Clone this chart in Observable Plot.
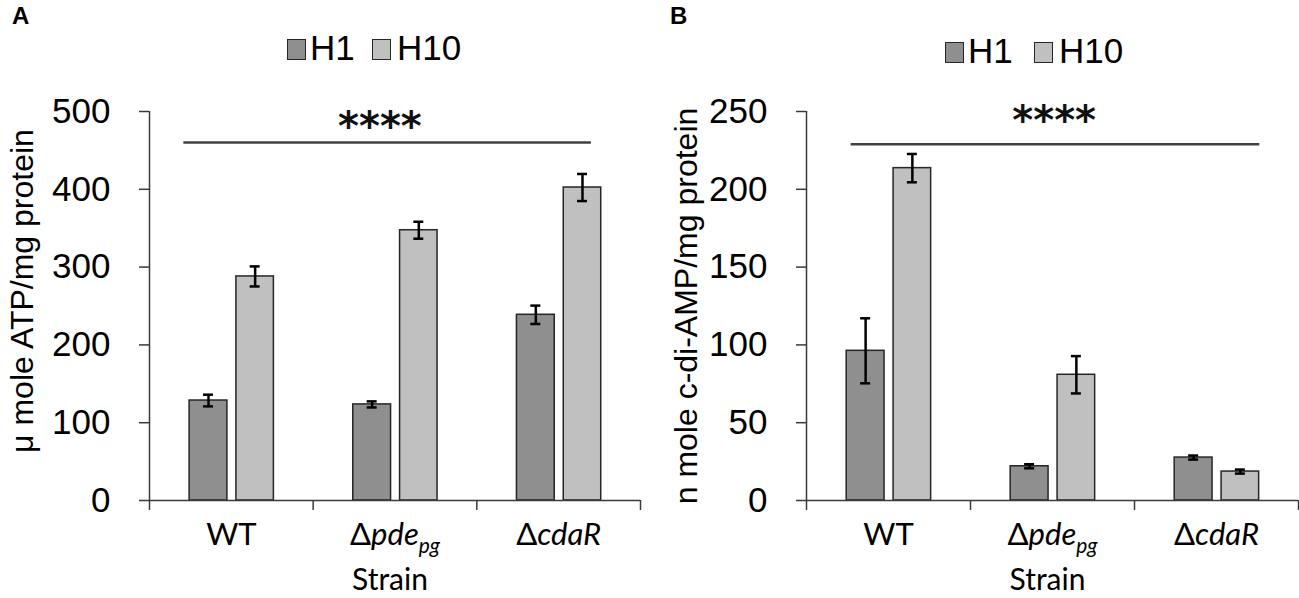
<!DOCTYPE html>
<html><head><meta charset="utf-8">
<script src="https://cdn.jsdelivr.net/npm/d3@7"></script>
<script src="https://cdn.jsdelivr.net/npm/@observablehq/plot@0.6"></script>
<style>
body{margin:0;background:#fff;}
#root{position:relative;width:1299px;height:598px;overflow:hidden;background:#fff;}
.panel{position:absolute;top:0;height:598px;}
.lg{position:absolute;font-family:"Liberation Sans",Arial,sans-serif;font-size:35px;line-height:35px;color:#000;white-space:nowrap;}
.sw{position:absolute;box-sizing:border-box;border:1.5px solid #262626;width:19px;height:21px;}
.letter{position:absolute;font-family:"Liberation Sans",Arial,sans-serif;font-weight:bold;font-size:24px;line-height:24px;color:#000;}
</style></head><body><div id="root"></div>
<script>
// ---------- data ----------
const strains = ["WT", "Δpde_pg", "ΔcdaR"];
const series = ["H1", "H10"];
const seriesColors = ["#8f8f8f", "#c0c0c0"];

// Panel A: µmole ATP / mg protein
const atpH1 = [128.5, 123.5, 238.7];
const atpH1Err = [7.5, 3.9, 11.8];
const atpH10 = [288, 347.4, 402.3];
const atpH10Err = [12.9, 10.9, 17.4];
const yTicksA = [0, 100, 200, 300, 400, 500];
const yLabelA = "μ mole ATP/mg protein";

// Panel B: nmole c-di-AMP / mg protein
const cdaH1 = [96.2, 22, 27.6];
const cdaH1Err = [20.9, 1.3, 1.3];
const cdaH10 = [213.6, 80.8, 18.6];
const cdaH10Err = [9.1, 12, 1.3];
const yTicksB = [0, 50, 100, 150, 200, 250];
const yLabelB = "n mole c-di-AMP/mg protein";

const xTitle = "Strain";
// significance bars (strain-index units on x, data units on y)
const sigLineA = [{x1: 0.21, x2: 2.70, y: 460}];
const sigStarsA = [{x: 1.408, y: 480, label: "****"}];
const sigLineB = [{x1: 0.272, x2: 2.764, y: 229}];
const sigStarsB = [{x: 1.51, y: 244, label: "****"}];

// ---------- build ----------
const span = {H1: [0.245, 0.476], H10: [0.531, 0.76]};
function rowsOf(h1, h1e, h10, h10e) {
  const rows = [];
  strains.forEach((s, i) => {
    rows.push({strain: s, i, series: "H1", value: h1[i], err: h1e[i]});
    rows.push({strain: s, i, series: "H10", value: h10[i], err: h10e[i]});
  });
  return rows;
}
const cx = d => d.i + (span[d.series][0] + span[d.series][1]) / 2;
const axisColor = "#3a3a3a";

function panel(o) {
  const svg = Plot.plot({
    width: o.width, height: 598,
    marginTop: 111, marginBottom: 98, marginLeft: o.marginLeft, marginRight: o.marginRight,
    x: {domain: [0, 3]},
    y: {domain: [0, o.yMax]},
    color: {domain: series, range: seriesColors},
    style: {fontFamily: "'Liberation Sans', Arial, sans-serif", fontSize: "35px", color: "#000", background: "#fff", overflow: "visible"},
    marks: [
      Plot.rectY(o.rows, {x1: d => d.i + span[d.series][0], x2: d => d.i + span[d.series][1], y1: 0, y2: "value",
        fill: "series", stroke: "#262626", strokeWidth: 1.5}),
      Plot.ruleX(o.rows, {x: cx, y1: d => d.value - d.err, y2: d => d.value + d.err, stroke: "#000", strokeWidth: 2.5}),
      Plot.ruleY(o.rows, {x1: cx, x2: cx, y: d => d.value + d.err, insetLeft: -5, insetRight: -5, stroke: "#000", strokeWidth: 2.5}),
      Plot.ruleY(o.rows, {x1: cx, x2: cx, y: d => d.value - d.err, insetLeft: -5, insetRight: -5, stroke: "#000", strokeWidth: 2.5}),
      Plot.ruleY([0], {stroke: axisColor, strokeWidth: 1.5}),
      Plot.ruleX([0], {stroke: axisColor, strokeWidth: 1.5}),
      Plot.axisY({ticks: o.yTicks, tickSize: 10, tickPadding: 29, label: null, stroke: axisColor, fill: "#000",
        fontSize: 35, fontFamily: "'Liberation Sans', Arial, sans-serif", strokeWidth: 1.5}),
      Plot.axisX({ticks: [0, 1, 2, 3], tickSize: 10, tickFormat: () => "", label: null, stroke: axisColor, strokeWidth: 1.5}),
      Plot.axisX({ticks: [0.5, 1.5, 2.5], tickSize: 0, tickPadding: 22, label: null, fill: "#000",
        tickFormat: v => strains[Math.floor(v)], fontFamily: "Lato, 'Open Sans', sans-serif", fontSize: 31}),
      Plot.text([o.yLabel], {text: d => d, frameAnchor: "left", textAnchor: "middle", lineAnchor: "middle", rotate: -90,
        dx: o.labelDx, dy: o.labelDy, fontSize: 32, fontFamily: "'Liberation Sans', Arial, sans-serif", fill: "#000"}),
      Plot.text([xTitle], {text: d => d, frameAnchor: "bottom", lineAnchor: "middle", dx: -5, dy: 80,
        fontSize: 30, fontFamily: "Lato, 'Open Sans', sans-serif", fill: "#000"}),
      Plot.ruleY(o.sigLine, {x1: "x1", x2: "x2", y: "y", stroke: "#404040", strokeWidth: 2.5}),
      Plot.text(o.sigStars, {x: "x", y: "y", text: "label", fontSize: 40, fontWeight: "bold",
        fontFamily: "'DejaVu Sans', sans-serif", fill: "#111"})
    ]
  });
  // italic strain names with subscript
  svg.querySelectorAll("text").forEach(t => {
    const s = t.textContent;
    if (s.startsWith("Δ")) {
      const [main, sub] = s.slice(1).split("_");
      t.textContent = "";
      const ns = "http://www.w3.org/2000/svg";
      const a = document.createElementNS(ns, "tspan"); a.textContent = "Δ"; t.appendChild(a);
      const b = document.createElementNS(ns, "tspan"); b.textContent = main; b.setAttribute("font-style", "italic"); t.appendChild(b);
      if (sub) {
        const c = document.createElementNS(ns, "tspan"); c.textContent = sub;
        c.setAttribute("font-style", "italic"); c.setAttribute("font-size", "21"); c.setAttribute("dy", "8");
        t.appendChild(c);
      }
    }
  });
  return svg;
}

const root = document.getElementById("root");
function addPanel(left, width, svg) {
  const d = document.createElement("div");
  d.className = "panel"; d.style.left = left + "px"; d.style.width = width + "px";
  d.appendChild(svg); root.appendChild(d);
}
addPanel(0, 650, panel({rows: rowsOf(atpH1, atpH1Err, atpH10, atpH10Err), yMax: 500, yTicks: yTicksA, yLabel: yLabelA,
  width: 650, marginLeft: 149, marginRight: 10, labelDx: -127, labelDy: -15, sigLine: sigLineA, sigStars: sigStarsA}));
addPanel(650, 649, panel({rows: rowsOf(cdaH1, cdaH1Err, cdaH10, cdaH10Err), yMax: 250, yTicks: yTicksB, yLabel: yLabelB,
  width: 649, marginLeft: 156, marginRight: 1, labelDx: -120, labelDy: 0, sigLine: sigLineB, sigStars: sigStarsB}));

// legends (HTML, above the plots)
function legend(pos) {
  series.forEach((s, k) => {
    const sw = document.createElement("div");
    sw.className = "sw"; sw.style.left = pos.sw[k] + "px"; sw.style.top = pos.top + "px";
    sw.style.background = seriesColors[k]; root.appendChild(sw);
    const tx = document.createElement("div");
    tx.className = "lg"; tx.textContent = s; tx.style.left = pos.tx[k] + "px"; tx.style.top = (pos.top - 9) + "px";
    root.appendChild(tx);
  });
}
legend({top: 39, sw: [287, 372], tx: [310, 397]});
legend({top: 42, sw: [945, 1034], tx: [968, 1059]});

[["A", 12], ["B", 670]].forEach(([l, x]) => {
  const e = document.createElement("div");
  e.className = "letter"; e.textContent = l; e.style.left = x + "px"; e.style.top = "4px";
  root.appendChild(e);
});
</script>
</body></html>
